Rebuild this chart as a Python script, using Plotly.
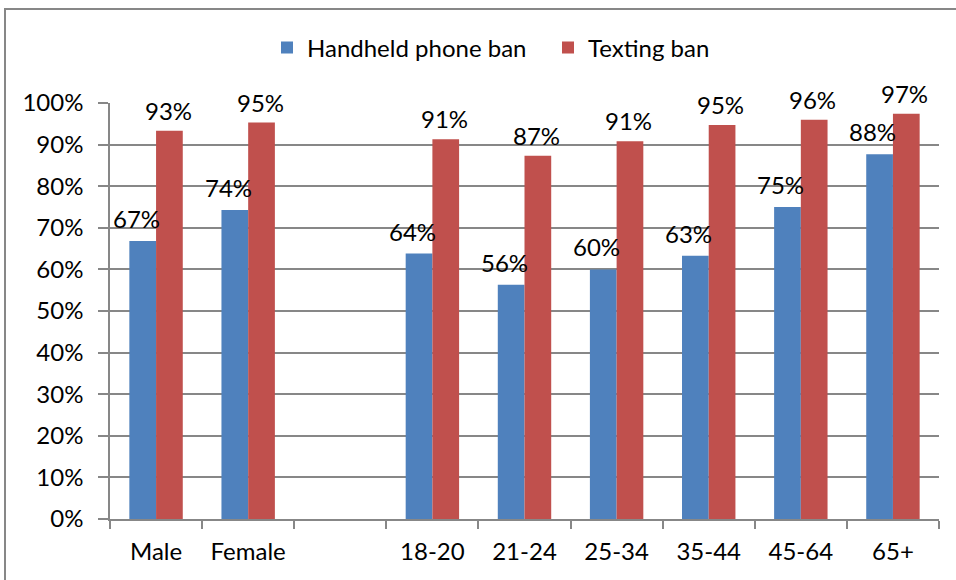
import plotly.graph_objects as go

categories = ["Male", "Female", " ", "18-20", "21-24", "25-34", "35-44", "45-64", "65+"]
handheld = [0.668, 0.743, None, 0.638, 0.563, 0.600, 0.633, 0.750, 0.877]
texting = [0.933, 0.953, None, 0.913, 0.873, 0.908, 0.947, 0.960, 0.974]
series_names = ["Handheld phone ban", "Texting ban"]

FONT = "Lato"
FS = 24
BLUE = "#4F81BD"
RED = "#C0504D"
GREY = "#878787"

W, H = 956, 580
L, R, T, B = 110, 17, 103, 61
pw, ph = W - L - R, H - T - B

fig = go.Figure()
for name, vals, col in [(series_names[0], handheld, BLUE), (series_names[1], texting, RED)]:
    fig.add_trace(go.Bar(
        x=categories, y=vals, name=name, marker=dict(color=col, line=dict(width=0)),
        cliponaxis=False,
    ))

# data labels (blue labels nudged left as in the original)
for vals, xs, ys in [(handheld, -20, 6), (texting, 12, 4)]:
    for c, v in zip(categories, vals):
        if v is None:
            continue
        fig.add_annotation(x=c, y=v, xref="x", yref="y", text=f"{round(v * 100)}%",
                           showarrow=False, xanchor="center", yanchor="bottom",
                           xshift=xs, yshift=ys,
                           font=dict(family=FONT, size=FS, color="black"))

def px_x(p):
    return (p - L) / pw

def px_y(p):
    return (H - B - p) / ph

fig.add_shape(type="rect", xref="paper", yref="paper",
              x0=px_x(5), x1=px_x(1010), y0=px_y(640), y1=px_y(9),
              line=dict(color=GREY, width=2), layer="below")

fig.update_layout(
    width=W, height=H,
    margin=dict(l=L, r=R, t=T, b=B),
    paper_bgcolor="white", plot_bgcolor="white",
    barmode="group", bargap=0.42, bargroupgap=0,
    font=dict(family=FONT, size=FS, color="black"),
    showlegend=True,
    legend=dict(orientation="h", x=px_x(548), xanchor="center", y=px_y(48), yanchor="middle",
                font=dict(family=FONT, size=FS, color="black"), itemwidth=30,
                entrywidth=236, bgcolor="rgba(0,0,0,0)"),
    xaxis=dict(type="category", showgrid=False, showline=True, linecolor=GREY, linewidth=1.5,
               ticks="outside", tickson="boundaries", ticklen=8, tickcolor=GREY, tickwidth=1.5,
               tickfont=dict(family=FONT, size=FS, color="black"), ticklabelstandoff=10),
    yaxis=dict(range=[0, 1], dtick=0.1, tickformat=".0%", showgrid=True, gridcolor=GREY,
               gridwidth=1.5, showline=True, linecolor=GREY, linewidth=1.5, zeroline=False,
               ticks="outside", ticklen=10, tickcolor=GREY, tickwidth=1.5,
               tickfont=dict(family=FONT, size=FS, color="black"), ticklabelstandoff=10),
)

fig.write_html("out.html", config={"displayModeBar": False},
               post_script="document.body.style.margin='0px';document.body.style.overflow='hidden';")
